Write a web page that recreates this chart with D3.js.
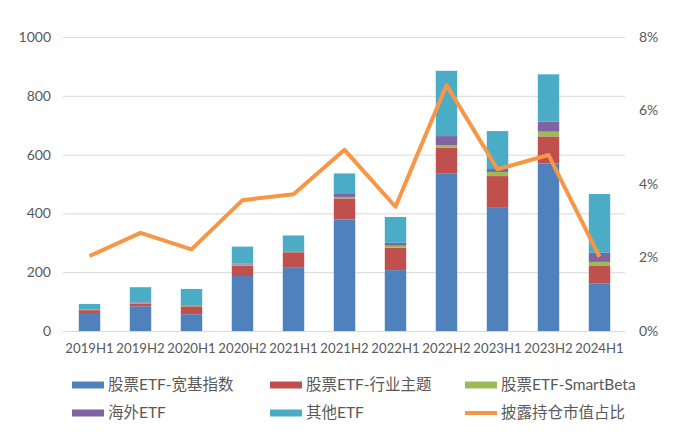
<!DOCTYPE html>
<html><head><meta charset="utf-8">
<script src="https://cdn.jsdelivr.net/npm/d3@7"></script>
<style>body{margin:0;background:#fff}svg{display:block}</style>
</head><body><svg id="c" width="700" height="438"></svg>
<script>
const categories = ["2019H1","2019H2","2020H1","2020H2","2021H1","2021H2","2022H1","2022H2","2023H1","2023H2","2024H1"];
const broadIndex = [58,84,57,187,215,379,207,535,419,570,161];
const industry   = [13,10,27,36,53,72,76,89,108,92,60];
const smartBeta  = [1,2,2,3,1,5,7,8,14,16,14];
const overseas   = [1,2,2,3,2,10,10,31,10,34,31];
const other      = [19,51,55,58,54,70,88,222,129,161,200];
const ratio      = [2.04,2.67,2.22,3.56,3.72,4.93,3.38,6.69,4.40,4.79,2.02];
const leftTicks  = [0,200,400,600,800,1000];
const rightTicks = [0,2,4,6,8];
const seriesNames = ["股票ETF-宽基指数","股票ETF-行业主题","股票ETF-SmartBeta","海外ETF","其他ETF"];
const lineName = "披露持仓市值占比";
const colors = ["#4F81BD","#C0504D","#9BBB59","#8064A2","#4BACC6"];
const lineColor = "#F79646";

const svg = d3.select("#c");
const font = "Lato, 'Noto Sans CJK SC', sans-serif";
const m = {l:64, r:75, t:37, b:107};
const W = 700, H = 438;
const x = d3.scaleBand().domain(categories).range([m.l, W-m.r]).paddingInner(0.58).paddingOuter(0.29);
const y = d3.scaleLinear().domain([0,1000]).range([H-m.b, m.t]);
const y2 = d3.scaleLinear().domain([0,8]).range([H-m.b, m.t]);

// gridlines
svg.append("g").selectAll("line").data(leftTicks).join("line")
  .attr("x1", m.l-1).attr("x2", W-m.r).attr("y1", d=>y(d)+0.5).attr("y2", d=>y(d)+0.5)
  .attr("stroke", "#d9d9d9").attr("stroke-width", 1);

// left axis
const la = svg.append("g").attr("transform", `translate(${m.l-13},0)`)
  .call(d3.axisLeft(y).tickValues(leftTicks).tickSize(0).tickPadding(0).tickFormat(d3.format("d")));
la.select(".domain").remove();
la.selectAll("text").attr("font-family", font).attr("font-size", 14).attr("fill", "#595959");

// right axis
const ra = svg.append("g").attr("transform", `translate(${W-m.r+14},0)`)
  .call(d3.axisRight(y2).tickValues(rightTicks).tickSize(0).tickPadding(0).tickFormat(d=>d+"%"));
ra.select(".domain").remove();
ra.selectAll("text").attr("font-family", font).attr("font-size", 14).attr("fill", "#595959");

// bottom axis labels
const ba = svg.append("g").attr("transform", `translate(0,${H-m.b+10})`)
  .call(d3.axisBottom(x).tickSize(0).tickPadding(0));
ba.select(".domain").remove();
ba.selectAll("text").attr("font-family", font).attr("font-size", 13.2).attr("fill", "#595959").attr("dy", "0.9em");

// stacked bars
const rows = categories.map((c,i)=>({cat:c, s0:broadIndex[i], s1:industry[i], s2:smartBeta[i], s3:overseas[i], s4:other[i]}));
const stack = d3.stack().keys(["s0","s1","s2","s3","s4"])(rows);
svg.append("g").selectAll("g").data(stack).join("g").attr("fill", (d,i)=>colors[i])
  .selectAll("rect").data(d=>d).join("rect")
  .attr("x", d=>x(d.data.cat)).attr("width", x.bandwidth())
  .attr("y", d=>y(d[1])).attr("height", d=>y(d[0])-y(d[1]));

// line
const line = d3.line().x((d,i)=>x(categories[i])+x.bandwidth()/2).y(d=>y2(d));
svg.append("path").datum(ratio).attr("d", line).attr("fill","none")
  .attr("stroke", lineColor).attr("stroke-width", 4).attr("stroke-linejoin","round");

// legend
const legendItems = [
  {name: seriesNames[0], color: colors[0], type:"rect"},
  {name: seriesNames[1], color: colors[1], type:"rect"},
  {name: seriesNames[2], color: colors[2], type:"rect"},
  {name: seriesNames[3], color: colors[3], type:"rect"},
  {name: seriesNames[4], color: colors[4], type:"rect"},
  {name: lineName, color: lineColor, type:"line"}
];
const colX = [72, 270, 465];
const rowY = [385, 413];
const lg = svg.append("g");
legendItems.forEach((it,i)=>{
  const cx = colX[i%3], cy = rowY[Math.floor(i/3)];
  if (it.type==="rect") lg.append("rect").attr("x", cx).attr("y", cy-3.5).attr("width", 32).attr("height", 7).attr("fill", it.color);
  else lg.append("rect").attr("x", cx).attr("y", cy-2).attr("width", 32).attr("height", 4).attr("fill", it.color);
  lg.append("text").attr("x", cx+36).attr("y", cy).attr("dy","0.35em")
    .attr("font-family", font).attr("font-size", 15.5).attr("fill", "#595959").text(it.name);
});
</script></body></html>
